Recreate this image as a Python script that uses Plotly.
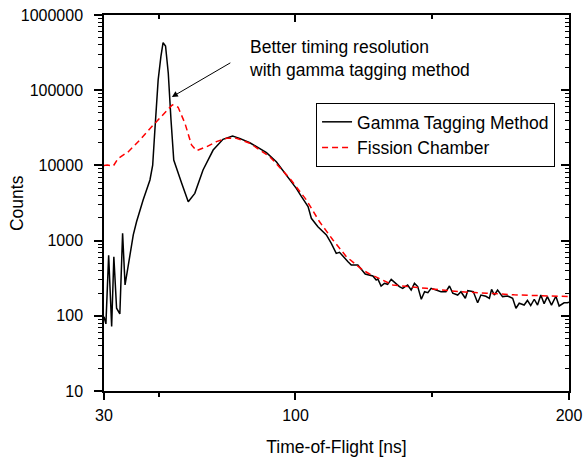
import plotly.graph_objects as go

# Gamma Tagging Method (black solid)
gamma_t = [30.0, 30.7, 31.7, 32.8, 33.6, 34.6, 35.8, 36.8, 37.7, 39.2, 40.7, 41.9, 44.3,
           46.8, 47.8, 48.6, 49.8, 50.8, 51.6, 52.5, 53.5, 54.5, 55.5, 58.4, 60.8, 63.2,
           66.2, 69.9, 73.5, 77.0, 79.6, 83.3, 86.9, 89.4, 93.0, 96.7, 100.3, 102.2, 104.6,
           105.8, 108.2, 111.3, 113.1, 114.9, 116.1, 119.2, 120.4, 122.8, 124.6, 125.5,
           128.3, 129.5, 130.1, 131.3, 132.5, 133.7, 135.0, 136.2, 138.0, 139.2, 141.0,
           142.3, 143.5, 144.7, 146.0, 147.2, 148.4, 149.6, 151.4, 153.2, 155.0, 156.3,
           157.5, 159.3, 160.5, 162.1, 163.0, 165.0, 166.6, 167.8, 169.6, 170.9, 171.7,
           172.7, 173.9, 175.7, 177.6, 179.4, 180.6, 181.8, 183.6, 184.8, 186.0, 187.3,
           188.5, 189.7, 190.9, 192.1, 193.6, 195.2, 196.4, 198.2, 199.4, 200.0]
gamma_counts = [97, 78, 640, 72, 610, 126, 106, 1250, 257, 520, 1190, 1780, 3470,
                6400, 10100, 29600, 137000, 279000, 428000, 387000, 168000, 40200, 11800,
                5780, 3290, 4250, 8690, 16000, 22200, 24600, 22900, 20000, 16900, 14800,
                11200, 7450, 4950, 3840, 2830, 1980, 1530, 1190, 920, 677, 700, 524, 474,
                474, 385, 360, 338, 299, 310, 249, 270, 262, 305, 280, 244, 232, 257, 220,
                270, 245, 166, 209, 203, 232, 220, 209, 209, 249, 200, 189, 209, 171, 216,
                210, 149, 189, 182, 171, 225, 189, 220, 180, 183, 171, 126, 147, 139, 160,
                137, 166, 139, 189, 145, 180, 139, 182, 135, 149, 149, 152]

# Fission Chamber (red dashed)
fission_t = [30.0, 31.2, 33.4, 35.2, 38.9, 43.1, 48.0, 52.3, 55.0, 57.1, 59.6, 62.0, 63.8,
             67.5, 71.1, 74.8, 78.4, 83.3, 90.6, 97.9, 104.0, 108.8, 113.7, 118.6, 124.6,
             127.1, 135.6, 147.8, 160.0, 170.0, 180.0, 190.0, 200.0]
fission_counts = [10000, 10100, 9820, 12400, 15200, 21800, 34400, 50200, 64000, 59300,
                  36300, 18700, 15700, 17700, 20700, 22900, 23000, 19700, 13100, 6730,
                  3470, 1780, 1020, 611, 406, 360, 257, 232, 209, 200, 190, 185, 180]

x_ticks = [30, 100, 200]
x_ticktext = ["30", "100", "200"]

FONT = "Liberation Sans, Arial, sans-serif"

fig = go.Figure()
fig.add_trace(go.Scatter(x=gamma_t, y=gamma_counts, mode="lines",
                         name="Gamma Tagging Method",
                         line=dict(color="black", width=1.5)))
fig.add_trace(go.Scatter(x=fission_t, y=fission_counts, mode="lines",
                         name="Fission Chamber",
                         line=dict(color="#ff0000", width=1.5, dash="6px,4px")))
# empty trace that carries the top/right tick-only axes (inside mirror ticks)
fig.add_trace(go.Scatter(x=[None], y=[None], xaxis="x2", yaxis="y2",
                         showlegend=False, hoverinfo="skip"))

base_x = dict(range=[30, 200], tickmode="array", tickvals=x_ticks, showgrid=False,
              zeroline=False, automargin=False, tickwidth=1.5, tickcolor="black")
base_y = dict(type="log", range=[1, 6], tickmode="linear", tick0=0, dtick=1,
              tickformat="d", showgrid=False, zeroline=False, automargin=False,
              tickwidth=1.5, tickcolor="black")


def minor_x(side):
    return dict(tickmode="linear", tick0=50, dtick=100, ticks=side, ticklen=4,
                tickcolor="black", tickwidth=1.5, showgrid=False)


def minor_y(side):
    return dict(dtick="D1", ticks=side, ticklen=4, tickcolor="black", tickwidth=1,
                showgrid=False)


fig.update_layout(
    template="none",
    width=584, height=457,
    margin=dict(l=104, r=15, t=15, b=66),
    paper_bgcolor="white", plot_bgcolor="white",
    font=dict(family=FONT, color="black", size=16),
    xaxis=dict(**base_x, ticktext=x_ticktext, ticks="outside", ticklen=7,
               showline=True, mirror=True, linecolor="black", linewidth=1.5,
               ticklabelstandoff=2, tickfont=dict(size=16), minor=minor_x("outside"),
               title=dict(text="Time-of-Flight [ns]", font=dict(size=17.5), standoff=26)),
    yaxis=dict(**base_y, ticks="outside", ticklen=8,
               showline=True, mirror=True, linecolor="black", linewidth=1.5,
               ticklabelstandoff=8, tickfont=dict(size=16), minor=minor_y("outside")),
    xaxis2=dict(**base_x, overlaying="x", side="top", anchor="y2", ticks="inside",
                ticklen=7, showticklabels=False, showline=False, minor=minor_x("inside")),
    yaxis2=dict(**base_y, overlaying="y", side="right", anchor="x2", ticks="inside",
                ticklen=8, showticklabels=False, showline=False, minor=minor_y("inside")),
    legend=dict(x=0.97, xanchor="right", y=0.681, yanchor="middle",
                bordercolor="black", borderwidth=1, bgcolor="white",
                font=dict(size=17.5), tracegroupgap=0),
    showlegend=True,
)

# y-axis title
fig.add_annotation(x=-0.187, y=0.5, xref="paper", yref="paper", text="Counts",
                   textangle=-90, showarrow=False, xanchor="center", yanchor="middle",
                   font=dict(size=17.5))
# arrow and its note
fig.add_annotation(x=54.8, y=4.91, xref="x", yref="y", text="",
                   showarrow=True, arrowhead=2, arrowsize=1.2, arrowwidth=1,
                   arrowcolor="black", ax=60, ay=-35)
fig.add_annotation(x=0.3075, y=0.883, xref="paper", yref="paper",
                   text="Better timing resolution<br>with gamma tagging method",
                   showarrow=False, xanchor="left", yanchor="middle", align="left",
                   font=dict(size=17.5))

fig.write_html("out.html", config={"displayModeBar": False},
               post_script="document.body.style.margin='0';document.body.style.overflow='hidden';")
